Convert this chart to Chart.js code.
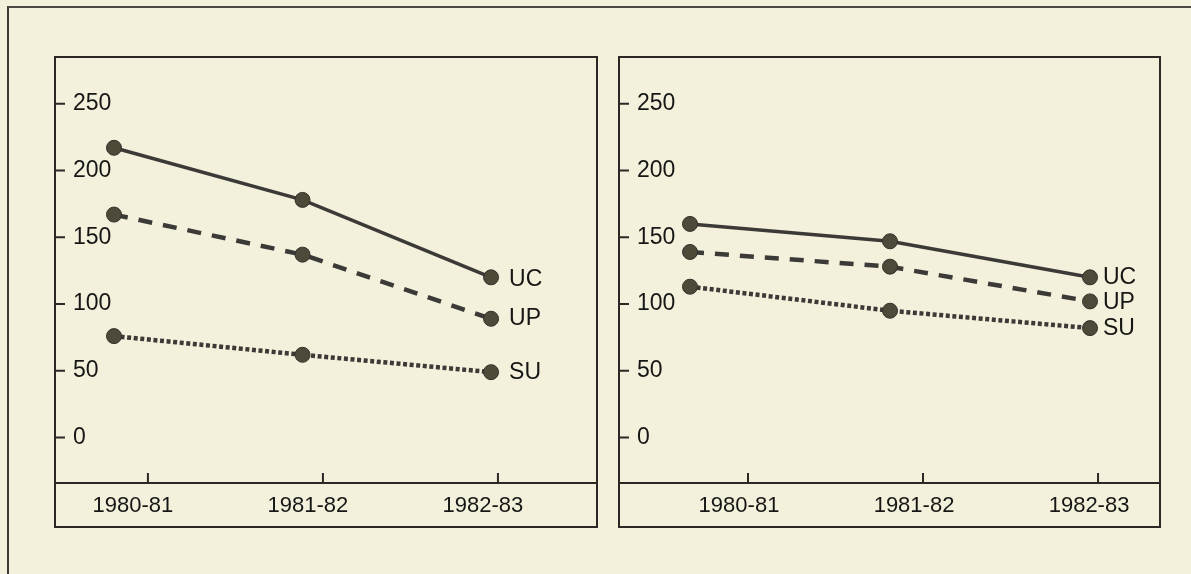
<!DOCTYPE html>
<html>
<head>
<meta charset="utf-8">
<script src="https://cdn.jsdelivr.net/npm/chart.js@4.4.1/dist/chart.umd.min.js"></script>
<style>
  html, body { margin: 0; padding: 0; background: #f3f0dc; }
  body { width: 1191px; height: 574px; position: relative; overflow: hidden; }
  #frame {
    position: absolute; left: 7px; top: 6px; right: -6px; bottom: -6px;
    border-left: 2px solid #3a3935; border-top: 2px solid #4a4944;
  }
  .panel { position: absolute; }
</style>
</head>
<body>
<div id="frame"></div>
<div class="panel" style="left:45px;top:47px;"><canvas id="left" width="562" height="490"></canvas></div>
<div class="panel" style="left:609px;top:47px;"><canvas id="right" width="561" height="490"></canvas></div>
<script>
// School years on the x axis, group names, y tick values
const periods = ['1980-81', '1981-82', '1982-83'];
const groupNames = ['UC', 'UP', 'SU'];
const yTickValues = [0, 50, 100, 150, 200, 250];

// Left panel
const ucLeft = [217, 178, 120];
const upLeft = [167, 137, 89];
const suLeft = [76, 62, 49];

// Right panel
const ucRight = [160, 147, 120];
const upRight = [139, 128, 102];
const suRight = [113, 95, 82];

const INK = '#2a2926';
const TEXT = '#161614';
const LINE = '#3b3a36';
const DOT_FILL = '#4d4a3a';
const DOT_EDGE = '#33312a';
const FONT = '"Liberation Sans", Arial, Helvetica, sans-serif';

// Boxes, inward tick marks and end-of-line group labels
const panelDecor = {
  id: 'panelDecor',
  beforeDatasetsDraw(chart) {
    const { ctx, chartArea: a, scales: { x, y } } = chart;
    ctx.save();
    ctx.strokeStyle = INK;
    ctx.lineWidth = 2;
    ctx.strokeRect(a.left, a.top, a.right - a.left, x.bottom - a.top);
    ctx.beginPath();
    ctx.moveTo(a.left, a.bottom);
    ctx.lineTo(a.right, a.bottom);
    y.ticks.forEach(t => {
      const py = y.getPixelForValue(t.value);
      ctx.moveTo(a.left, py);
      ctx.lineTo(a.left + 10, py);
    });
    x.ticks.forEach(t => {
      const px = x.getPixelForValue(t.value);
      ctx.moveTo(px, a.bottom);
      ctx.lineTo(px, a.bottom - 10);
    });
    ctx.stroke();
    ctx.restore();
  },
  afterDatasetsDraw(chart, args, opts) {
    const { ctx } = chart;
    ctx.save();
    ctx.fillStyle = TEXT;
    ctx.font = '23px ' + FONT;
    ctx.textAlign = 'left';
    ctx.textBaseline = 'middle';
    chart.data.datasets.forEach((ds, i) => {
      const pts = chart.getDatasetMeta(i).data;
      const last = pts[pts.length - 1];
      ctx.fillText(ds.label, last.x + opts.gap, last.y + (opts.dy[i] || 0));
    });
    ctx.restore();
  }
};

function series(name, values, style) {
  return Object.assign({
    label: name,
    data: values.map((v, i) => ({ x: i, y: v })),
    xAxisID: 'xd',
    yAxisID: 'y',
    borderColor: LINE,
    borderCapStyle: 'butt',
    fill: false,
    tension: 0,
    pointRadius: 7.5,
    pointBackgroundColor: DOT_FILL,
    pointBorderColor: DOT_EDGE,
    pointBorderWidth: 1
  }, style);
}

function noPadding(s) {
  s.paddingTop = 0;
  s.paddingBottom = 0;
  s.paddingLeft = 0;
  s.paddingRight = 0;
}

function makePanel(id, uc, up, su, cfg) {
  new Chart(document.getElementById(id), {
    type: 'line',
    data: {
      datasets: [
        series(groupNames[0], uc, { borderWidth: 3.5 }),
        series(groupNames[1], up, { borderWidth: 4.5, borderDash: [14, 11] }),
        series(groupNames[2], su, { borderWidth: 4.5, borderDash: [4, 2.6] })
      ]
    },
    options: {
      responsive: false,
      animation: false,
      events: [],
      layout: { padding: 10 },
      plugins: {
        legend: { display: false },
        tooltip: { enabled: false },
        panelDecor: { gap: cfg.gap, dy: cfg.dy }
      },
      scales: {
        xd: { type: 'linear', display: false, min: cfg.dataMin, max: cfg.dataMax },
        x: {
          type: 'linear',
          position: 'bottom',
          min: cfg.tickMin,
          max: cfg.tickMax,
          afterBuildTicks: s => { s.ticks = periods.map((p, i) => ({ value: i })); },
          afterFit: s => { s.height = 44; noPadding(s); },
          grid: { display: false, drawTicks: false },
          border: { display: false },
          ticks: {
            autoSkip: false,
            maxRotation: 0,
            padding: 10,
            labelOffset: cfg.labelOffset,
            color: TEXT,
            font: { family: FONT, size: 22 },
            callback: v => periods[v]
          }
        },
        y: {
          type: 'linear',
          position: 'left',
          min: -34,
          max: 285,
          afterBuildTicks: s => { s.ticks = yTickValues.map(v => ({ value: v })); },
          afterFit: s => { s.width = 0; noPadding(s); },
          grid: { display: false, drawTicks: false },
          border: { display: false },
          ticks: {
            mirror: true,
            padding: 18,
            color: TEXT,
            font: { family: FONT, size: 23 }
          }
        }
      }
    },
    plugins: [panelDecor]
  });
}

makePanel('left', ucLeft, upLeft, suLeft, {
  dataMin: -0.313, dataMax: 2.562,
  tickMin: -0.531, tickMax: 2.566,
  labelOffset: -15, gap: 18, dy: [2, 0, 0]
});
makePanel('right', ucRight, upRight, suRight, {
  dataMin: -0.355, dataMax: 2.35,
  tickMin: -0.737, tickMax: 2.354,
  labelOffset: -9, gap: 13, dy: [0, 1, 1]
});
</script>
</body>
</html>
